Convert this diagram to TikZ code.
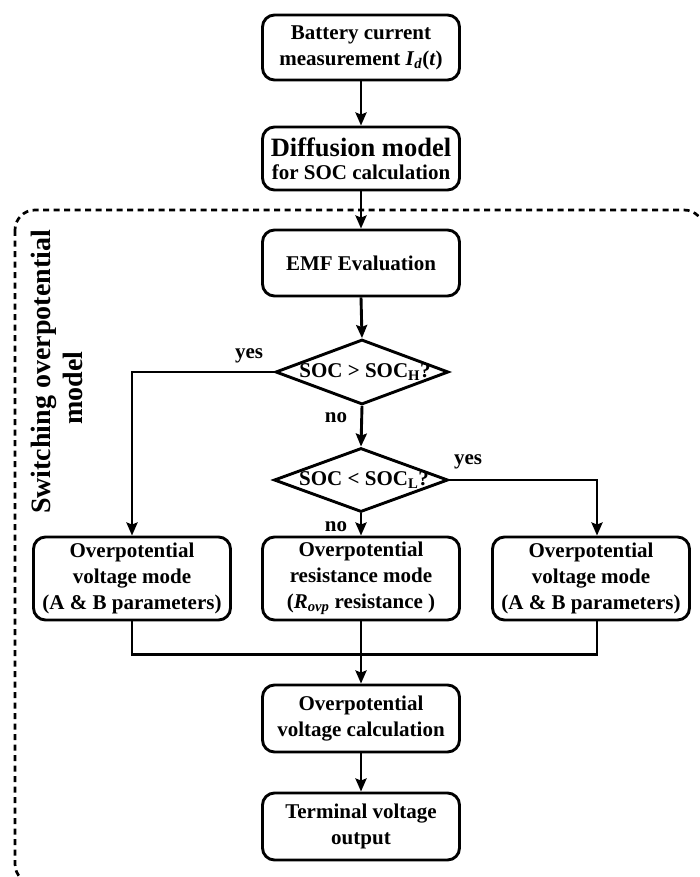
\documentclass[tikz,border=0pt]{standalone}
\usepackage{fontspec}
\setmainfont{Liberation Serif}
\usetikzlibrary{arrows.meta,shapes.geometric}
\begin{document}
\begin{tikzpicture}[x=1pt,y=-1pt,
  box/.style={draw, line width=2.9pt, rounded corners=12pt, minimum width=197pt, inner sep=0pt, align=center, font=\fontsize{21}{26}\selectfont\bfseries, fill=white},
  dia/.style={draw, shape=diamond, line width=2.9pt, inner sep=0pt, fill=white},
  arr/.style={line width=2.9pt, -{Stealth[length=13pt,width=11pt,inset=2pt]}},
  ln/.style={line width=2.9pt},
  lbl/.style={font=\fontsize{21}{26}\selectfont\bfseries, inner sep=0pt},
  frame/.style={line width=2.7pt, dash pattern=on 6pt off 4.5pt, rounded corners=20pt}
]
\useasboundingbox (0,0) rectangle (699,877);
\begin{scope}
\clip (0,0) rectangle (699,877);
\draw[frame] (15,210) rectangle (704,884);
\end{scope}

\node[lbl, rotate=90, font=\fontsize{28}{32}\selectfont\bfseries, align=center] (sw) at (57,372) {Switching overpotential\\model\rule{32pt}{0pt}};

\node[box, minimum height=65pt] (b1) at (361,47.5) {Battery current\\measurement \textit{I}\textsubscript{\textit{d}}(\textit{t})};
\node[box, minimum height=63pt] (b2) at (361,158.5) {{\fontsize{26.5}{30}\selectfont Diffusion model}\\[-3pt]for SOC calculation};
\node[box, minimum height=66pt] (b3) at (361,263) {EMF Evaluation};

\node[dia, minimum width=173pt, minimum height=65pt] (d1) at (362,372) {};
\node[lbl] (t1) at (365,372) {SOC > SOC\textsubscript{H}?};
\node[dia, minimum width=174pt, minimum height=64pt] (d2) at (361,480) {};
\node[lbl] (t2) at (364,480) {SOC < SOC\textsubscript{L}?};

\node[box, minimum height=83pt] (lb) at (132,578.5) {Overpotential\\voltage mode\\(A \& B parameters)};
\node[box, minimum height=83pt] (mb) at (361,578.5) {Overpotential\\resistance mode\\(\textit{R}\textsubscript{\textit{ovp}} resistance )};
\node[box, minimum height=83pt] (rb) at (591,578.5) {Overpotential\\voltage mode\\(A \& B parameters)};

\node[box, minimum height=67pt] (b4) at (361,718.5) {Overpotential\\voltage calculation};
\node[box, minimum height=67pt] (b5) at (361,826.5) {Terminal voltage\\output};

\draw[arr] (b1.south) -- (b2.north);
\draw[arr] (b2.south) -- (b3.north);
\draw[arr] (b3.south) -- (d1.north);
\draw[arr] (d1.south) -- (d2.north);
\draw[arr] (d2.south) -- (mb.north);
\draw[arr] (d1.west) -| (lb.north);
\draw[arr] (d2.east) -| ([xshift=6pt]rb.north);
\draw[ln] (lb.south) -- ++(0,33) -| ([xshift=6pt]rb.south);
\draw[arr] (mb.south) -- (b4.north);
\draw[arr] (b4.south) -- (b5.north);

\node[lbl] (y1) at (249,356) {yes};
\node[lbl] (n1) at (336,418) {no};
\node[lbl] (y2) at (468,462) {yes};
\node[lbl] (n2) at (336,527) {no};
\end{tikzpicture}
\end{document}
